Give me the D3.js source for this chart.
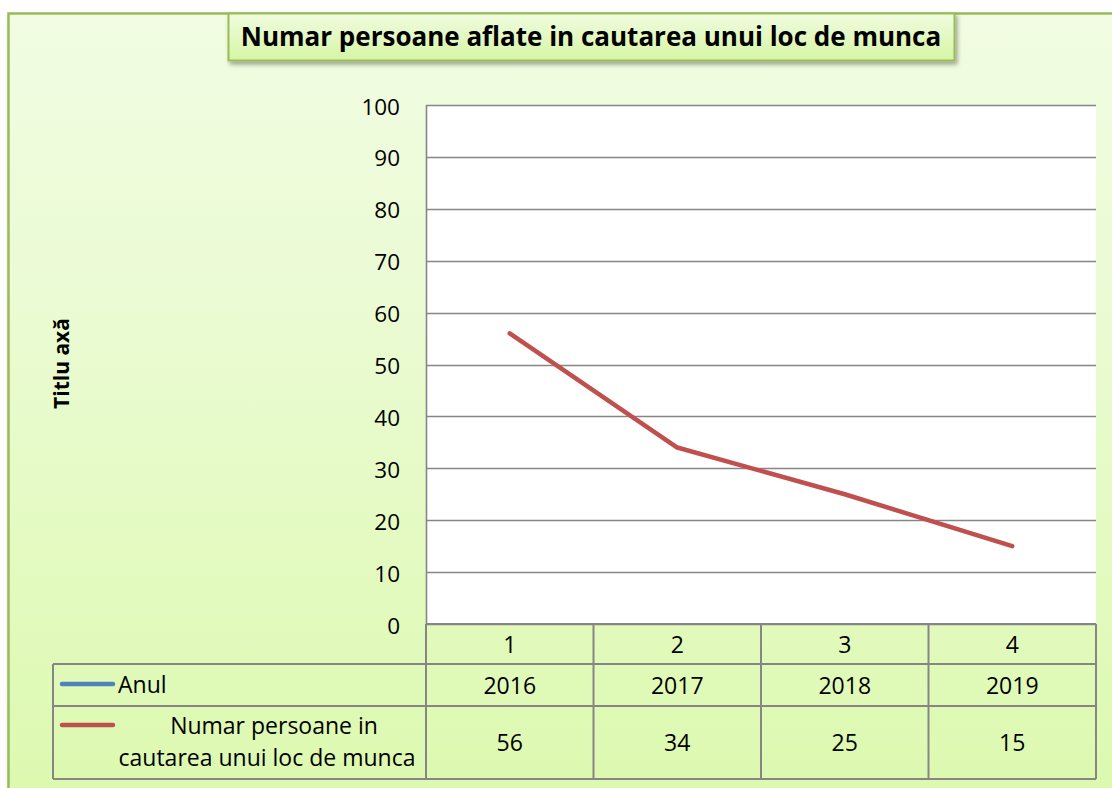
<!DOCTYPE html>
<html lang="ro">
<head>
  <meta charset="UTF-8">
  <title>Numar persoane aflate in cautarea unui loc de munca</title>
  <style>
    body { margin: 0; background: #fff; }
    svg { display: block; font-family: "Open Sans", Lato, sans-serif; }
  </style>
  <script src="https://d3js.org/d3.v7.min.js"></script>
</head>
<body>
  <div id="chart"></div>
  <script>
    // chart data
    const categories = ["1", "2", "3", "4"];
    const years = [2016, 2017, 2018, 2019];
    const persons = [56, 34, 25, 15];
    const yTicks = [0, 10, 20, 30, 40, 50, 60, 70, 80, 90, 100];
    const seriesNames = ["Anul", "Numar persoane in cautarea unui loc de munca"];
    const seriesColors = ["#4F81BD", "#C0504D"];
    const title = "Numar persoane aflate in cautarea unui loc de munca";
    const yTitle = "Titlu axă";

    const W = 1112, H = 788;
    const svg = d3.select("#chart").append("svg")
      .attr("width", W)
      .attr("height", H);

    const defs = svg.append("defs");
    const bg = defs.append("linearGradient").attr("id", "bg")
      .attr("x1", 0).attr("y1", 0).attr("x2", 0).attr("y2", 1);
    bg.append("stop").attr("offset", "0%").attr("stop-color", "#F1FCE2");
    bg.append("stop").attr("offset", "35%").attr("stop-color", "#EBFBD4");
    bg.append("stop").attr("offset", "100%").attr("stop-color", "#DCF9AE");

    const tg = defs.append("linearGradient").attr("id", "tg")
      .attr("x1", 0).attr("y1", 0).attr("x2", 0).attr("y2", 1);
    tg.append("stop").attr("offset", "0%").attr("stop-color", "#F0FCE0");
    tg.append("stop").attr("offset", "100%").attr("stop-color", "#D6F5A4");

    const sh = defs.append("filter").attr("id", "sh")
      .attr("x", "-5%").attr("y", "-20%").attr("width", "110%").attr("height", "160%");
    sh.append("feDropShadow").attr("dx", 2).attr("dy", 3).attr("stdDeviation", 2)
      .attr("flood-color", "#000").attr("flood-opacity", 0.35);

    const plot = { left: 426, right: 1096, top: 105, bottom: 624 };
    defs.append("clipPath").attr("id", "clip").append("rect")
      .attr("x", plot.left).attr("y", plot.top)
      .attr("width", plot.right - plot.left).attr("height", plot.bottom - plot.top);

    // outer chart area
    svg.append("rect")
      .attr("x", 8.5).attr("y", 13.5)
      .attr("width", W + 10).attr("height", H + 10)
      .attr("fill", "url(#bg)")
      .attr("stroke", "#9BBB59").attr("stroke-width", 2.5)
      .attr("filter", "url(#sh)");

    const x = d3.scaleBand().domain(categories).range([plot.left, plot.right]);
    const y = d3.scaleLinear().domain([0, 100]).range([plot.bottom, plot.top]);

    // plot area
    svg.append("rect")
      .attr("x", plot.left).attr("y", plot.top)
      .attr("width", plot.right - plot.left).attr("height", plot.bottom - plot.top)
      .attr("fill", "#fff");

    svg.append("g").selectAll("line").data(yTicks).join("line")
      .attr("x1", plot.left).attr("x2", plot.right)
      .attr("y1", d => Math.round(y(d)) + 0.5).attr("y2", d => Math.round(y(d)) + 0.5)
      .attr("stroke", "#868686").attr("stroke-width", 1.6);

    svg.append("line")
      .attr("x1", plot.left + 0.5).attr("x2", plot.left + 0.5)
      .attr("y1", plot.top).attr("y2", plot.bottom)
      .attr("stroke", "#868686").attr("stroke-width", 1.6);

    const yAxis = svg.append("g")
      .attr("transform", `translate(${plot.left - 26},0)`)
      .call(d3.axisLeft(y).tickValues(yTicks).tickSize(0).tickPadding(0));
    yAxis.select(".domain").remove();
    yAxis.selectAll("text")
      .attr("font-family", "'Open Sans', sans-serif")
      .attr("font-size", 22.5)
      .attr("fill", "#000")
      .attr("dy", "0.4em");

    svg.append("text")
      .attr("transform", `translate(69,${(plot.top + plot.bottom) / 2 - 1}) rotate(-90)`)
      .attr("text-anchor", "middle")
      .attr("font-weight", "bold")
      .attr("font-size", 21)
      .text(yTitle);

    // lines
    const line = d3.line()
      .x((d, i) => x(categories[i]) + x.bandwidth() / 2)
      .y(d => y(d));

    const lines = svg.append("g").attr("clip-path", "url(#clip)");
    [years, persons].forEach((vals, k) => {
      lines.append("path")
        .datum(vals)
        .attr("d", line)
        .attr("fill", "none")
        .attr("stroke", seriesColors[k])
        .attr("stroke-width", 4.5)
        .attr("stroke-linecap", "round")
        .attr("stroke-linejoin", "round");
    });

    // data table
    const rows = [plot.bottom, 664, 706, 779];
    const legendLeft = 53;
    const tbl = svg.append("g")
      .attr("stroke", "#868686").attr("stroke-width", 2).attr("fill", "none");

    tbl.append("line").attr("x1", plot.left).attr("x2", plot.right)
      .attr("y1", rows[0]).attr("y2", rows[0]);
    rows.slice(1).forEach(r => {
      tbl.append("line").attr("x1", legendLeft).attr("x2", plot.right)
        .attr("y1", r).attr("y2", r);
    });
    const colEdges = categories.map(c => x(c)).concat([plot.right]);
    colEdges.forEach(cx => {
      tbl.append("line").attr("x1", cx).attr("x2", cx)
        .attr("y1", rows[0]).attr("y2", rows[3]);
    });
    tbl.append("line").attr("x1", legendLeft).attr("x2", legendLeft)
      .attr("y1", rows[1]).attr("y2", rows[3]);

    const cellText = svg.append("g")
      .attr("font-size", 23).attr("fill", "#000").attr("text-anchor", "middle");

    const rowCenter = i => (rows[i] + rows[i + 1]) / 2;
    cellText.selectAll(".cat").data(categories).join("text")
      .attr("x", d => x(d) + x.bandwidth() / 2)
      .attr("y", rowCenter(0))
      .attr("dy", "0.38em")
      .text(d => d);
    cellText.selectAll(".yr").data(years).join("text")
      .attr("x", (d, i) => x(categories[i]) + x.bandwidth() / 2)
      .attr("y", rowCenter(1))
      .attr("dy", "0.38em")
      .text(d => d);
    cellText.selectAll(".val").data(persons).join("text")
      .attr("x", (d, i) => x(categories[i]) + x.bandwidth() / 2)
      .attr("y", rowCenter(2))
      .attr("dy", "0.38em")
      .text(d => d);

    // legend keys
    const keyY = [684, 725];
    seriesColors.forEach((c, k) => {
      svg.append("line")
        .attr("x1", 62).attr("x2", 113)
        .attr("y1", keyY[k]).attr("y2", keyY[k])
        .attr("stroke", c).attr("stroke-width", 4.5)
        .attr("stroke-linecap", "round");
    });
    svg.append("text")
      .attr("x", 118).attr("y", rowCenter(1)).attr("dy", "0.36em")
      .attr("font-size", 23)
      .text(seriesNames[0]);
    const name2 = svg.append("text")
      .attr("font-size", 23).attr("text-anchor", "middle");
    name2.append("tspan").attr("x", 274).attr("y", 734).text("Numar persoane in");
    name2.append("tspan").attr("x", 267).attr("y", 766).text("cautarea unui loc de munca");

    // title box
    svg.append("rect")
      .attr("x", 228.5).attr("y", 13.5)
      .attr("width", 726).attr("height", 47)
      .attr("fill", "url(#tg)")
      .attr("stroke", "#9BBB59").attr("stroke-width", 2)
      .attr("filter", "url(#sh)");
    svg.append("text")
      .attr("x", 591).attr("y", 46)
      .attr("text-anchor", "middle")
      .attr("font-weight", "bold")
      .attr("font-size", 26)
      .text(title);
  </script>
</body>
</html>
